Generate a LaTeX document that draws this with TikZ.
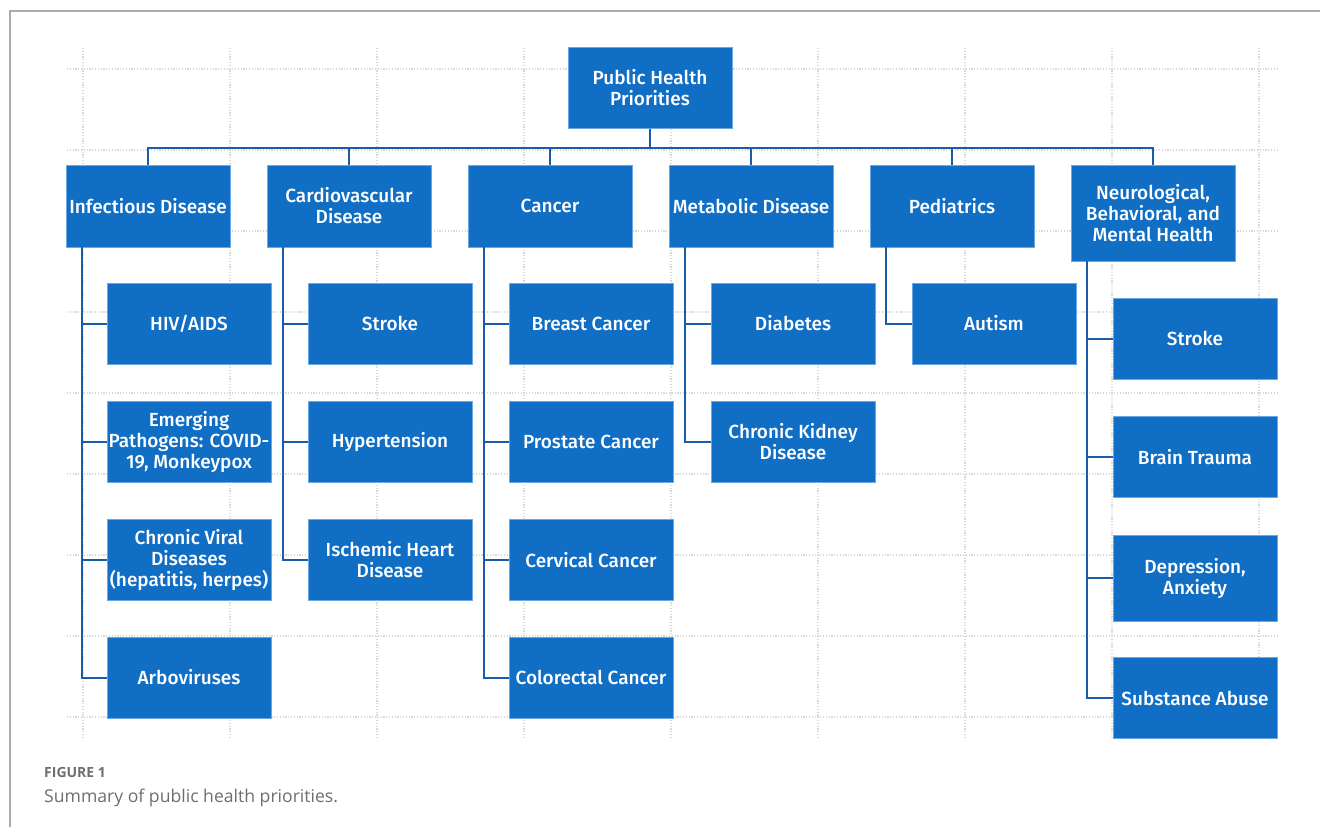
\documentclass[tikz,border=0pt]{standalone}
\usepackage{fontspec}
\setmainfont{Fira Sans}[UprightFont={* Medium},BoldFont={* SemiBold}]
\newfontfamily\capfont{Open Sans}
\usetikzlibrary{positioning}
\definecolor{boxblue}{HTML}{106EC4}
\definecolor{boxedge}{HTML}{6AA8E6}
\definecolor{linkblue}{HTML}{1A5CAA}
\definecolor{gridgray}{HTML}{D8D8D8}
\definecolor{framegray}{HTML}{ABABAB}
\definecolor{capgray}{HTML}{6E6E6E}
\tikzset{
  pbox/.style={draw=boxedge, line width=0.8pt, fill=boxblue, text=white,
    minimum width=164pt, minimum height=81pt, inner sep=0pt, align=center,
    font=\fontsize{19}{21}\selectfont},
  link/.style={draw=linkblue, line width=2pt},
  gridline/.style={draw=gridgray, line width=1.2pt, dash pattern=on 1.2pt off 1.6pt},
}
\begin{document}
\begin{tikzpicture}[x=1pt,y=-1pt]
\useasboundingbox (0,0) rectangle (1320,827);
\fill[white] (0,0) rectangle (1320,827);
% frame
\draw[framegray, line width=1.5pt] (10,827) -- (10,11) -- (1320,11);
% grid
\foreach \k in {0,...,8}{
  \draw[gridline] (83+147*\k,48) -- (83+147*\k,737);
  \draw[gridline] (67,69+81*\k) -- (1277,69+81*\k);
}
% root
\node[pbox] (root) at (650,88) {Public Health\\Priorities};
% level 1
\node[pbox, minimum height=82pt] (inf) at (148,206) {Infectious Disease};
\node[pbox, minimum height=82pt] (cvd) at (349,206) {Cardiovascular\\Disease};
\node[pbox, minimum height=82pt] (can) at (550,206) {Cancer};
\node[pbox, minimum height=82pt] (met) at (751,206) {Metabolic Disease};
\node[pbox, minimum height=82pt] (ped) at (952,206) {Pediatrics};
\node[pbox, minimum height=96pt] (neu) at (1153,213) {Neurological,\\Behavioral, and\\Mental Health};
% infectious children
\node[pbox] (inf1) at (189,323.5) {HIV/AIDS};
\node[pbox] (inf2) at (189,442) {Emerging\\Pathogens: COVID-\\19, Monkeypox};
\node[pbox] (inf3) at (189,560) {Chronic Viral\\Diseases\\(hepatitis, herpes)};
\node[pbox] (inf4) at (189,677.5) {Arboviruses};
% cardiovascular children
\node[pbox] (cvd1) at (390,323.5) {Stroke};
\node[pbox] (cvd2) at (390,442) {Hypertension};
\node[pbox] (cvd3) at (390,560) {Ischemic Heart\\Disease};
% cancer children
\node[pbox] (can1) at (591,323.5) {Breast Cancer};
\node[pbox] (can2) at (591,442) {Prostate Cancer};
\node[pbox] (can3) at (591,560) {Cervical Cancer};
\node[pbox] (can4) at (591,677.5) {Colorectal Cancer};
% metabolic children
\node[pbox] (met1) at (793,323.5) {Diabetes};
\node[pbox] (met2) at (793,442) {Chronic Kidney\\Disease};
% pediatrics child
\node[pbox] (ped1) at (994,323.5) {Autism};
% neuro children
\node[pbox] (neu1) at (1195,338.5) {Stroke};
\node[pbox] (neu2) at (1195,457) {Brain Trauma};
\node[pbox, minimum height=86pt] (neu3) at (1195,578) {Depression,\\Anxiety};
\node[pbox] (neu4) at (1195,698) {Substance Abuse};
% root to level 1
\foreach \n in {inf,cvd,can,met,ped,neu}{
  \draw[link] (root.south) -- ++(0,19.5) -| (\n.north);
}
% level 1 to children
\foreach \p/\c in {inf/inf1,inf/inf2,inf/inf3,inf/inf4,
                   cvd/cvd1,cvd/cvd2,cvd/cvd3,
                   can/can1,can/can2,can/can3,can/can4,
                   met/met1,met/met2,
                   ped/ped1,
                   neu/neu1,neu/neu2,neu/neu3,neu/neu4}{
  \draw[link] ([xshift=16pt]\p.south west) |- (\c.west);
}
% caption
\node[anchor=base west, inner sep=0pt, text=capgray, font=\capfont\bfseries\fontsize{14}{16}\selectfont] (fig) at (44,777) {FIGURE 1};
\node[anchor=base west, inner sep=0pt, text=capgray, font=\capfont\fontsize{17.6}{20}\selectfont] (cap) at (44,802) {Summary of public health priorities.};
\end{tikzpicture}
\end{document}
